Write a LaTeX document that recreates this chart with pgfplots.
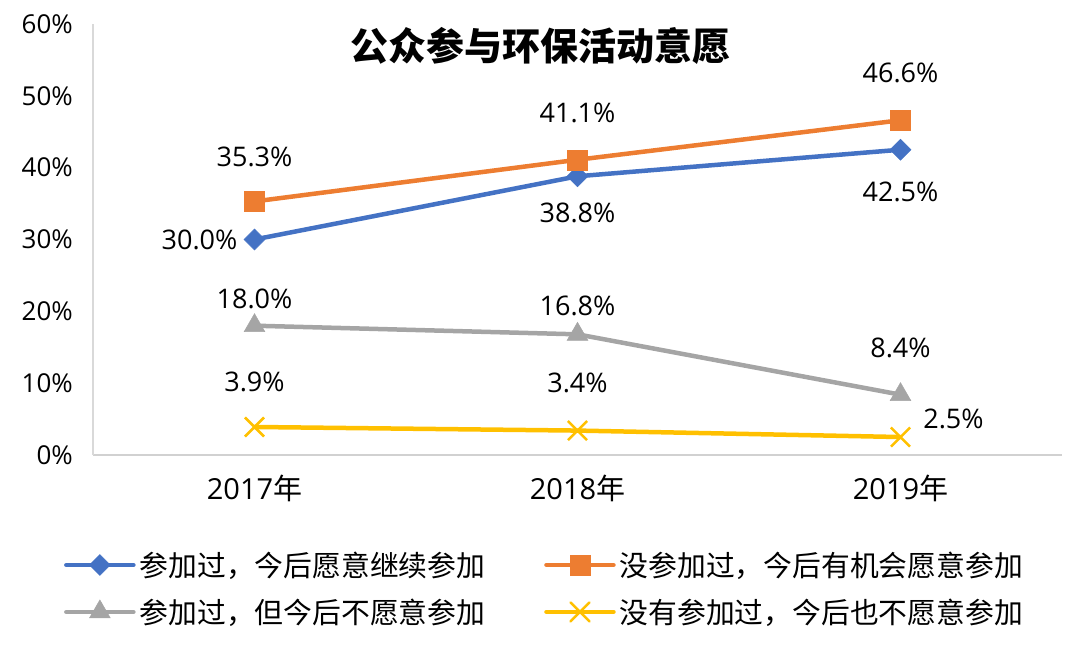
\documentclass[border=0pt]{standalone}
\usepackage{fontspec}
\setmainfont{Open Sans}
\newfontfamily\cjk{Noto Sans CJK SC}
\usepackage{pgfplots}
\usepackage{pgfplotstable}
\pgfplotsset{compat=1.18}
\definecolor{cblue}{HTML}{4472C4}
\definecolor{corange}{HTML}{ED7D31}
\definecolor{cgray}{HTML}{A5A5A5}
\definecolor{cyellow}{HTML}{FFC000}

\pgfplotstableread{
x y dx dy
0 30.0 -55 0
1 38.8 0 -37
2 42.5 0 -42
}\tblA
\pgfplotstableread{
x y dx dy
0 35.3 0 45
1 41.1 0 47
2 46.6 0 47
}\tblB
\pgfplotstableread{
x y dx dy
0 18.0 0 27
1 16.8 0 28
2 8.4 0 47
}\tblC
\pgfplotstableread{
x y dx dy
0 3.9 0 45
1 3.4 0 48
2 2.5 53 18
}\tblD

\begin{document}
\begin{tikzpicture}
\path[use as bounding box] (0bp,0bp) rectangle (1080bp,659bp);
\begin{axis}[
  at={(93bp,204bp)}, anchor=south west, scale only axis,
  width=969bp, height=431bp,
  xmin=-0.5, xmax=2.5, ymin=0, ymax=60,
  xtick={0,1,2},
  xticklabels={2017{\cjk 年},2018{\cjk 年},2019{\cjk 年}},
  ytick={0,10,...,60},
  yticklabel={\pgfmathprintnumber{\tick}\%},
  axis x line=bottom, axis y line=left,
  x axis line style={-, draw=black!18, line width=1.5bp},
  y axis line style={-, draw=black!15, line width=1.5bp},
  major tick length=0pt,
  /pgf/number format/assume math mode=true,
  yticklabel style={font=\fontsize{26bp}{28bp}\selectfont, inner sep=0pt, xshift=-20bp},
  xticklabel style={font=\fontsize{29bp}{31bp}\selectfont, inner sep=0pt, yshift=-20bp},
  title={公众参与环保活动意愿},
  title style={font=\cjk\bfseries\fontsize{38bp}{40bp}\selectfont, at={(axis description cs:0.4613,0.935)}, anchor=center},
  clip=false,
  point meta=y,
  nodes near coords={\pgfmathprintnumber[fixed,fixed zerofill,precision=1]{\pgfplotspointmeta}\%},
  visualization depends on={\thisrow{dx}\as\dx},
  visualization depends on={\thisrow{dy}\as\dy},
  every node near coord/.append style={anchor=center, xshift=\dx bp, yshift=\dy bp, font=\fontsize{27bp}{29bp}\selectfont, text=black},
  legend columns=2,
  legend cell align=left,
  legend style={draw=none, fill=none, at={(axis description cs:-0.030,-0.22)}, anchor=north west, inner sep=0pt,
    font=\cjk\fontsize{28.8bp}{30bp}\selectfont, row sep=17bp, nodes={inner xsep=4bp, inner ysep=2bp},
    /tikz/every even column/.append style={column sep=55bp}},
  legend image code/.code={\draw[mark repeat=2,mark phase=2,#1, line cap=round] plot coordinates {(0bp,0bp) (33.5bp,0bp) (67bp,0bp)};},
]
\addplot[cblue, line width=4.5bp, mark=diamond*, mark size=10.5bp, mark options={solid, xscale=1.33, line width=0.5bp}] table[x=x,y=y] \tblA;
\addlegendentry{参加过，今后愿意继续参加}
\addplot[corange, line width=4.5bp, mark=square*, mark size=10bp, mark options={solid, line width=0.5bp}] table[x=x,y=y] \tblB;
\addlegendentry{没参加过，今后有机会愿意参加}
\addplot[cgray, line width=4.5bp, mark=triangle*, mark size=12bp, mark options={solid, line width=0.5bp}] table[x=x,y=y] \tblC;
\addlegendentry{参加过，但今后不愿意参加}
\addplot[cyellow, line width=4.5bp, mark=x, mark size=13.5bp, mark options={solid, line width=2.5bp}] table[x=x,y=y] \tblD;
\addlegendentry{没有参加过，今后也不愿意参加}
\end{axis}
\end{tikzpicture}
\end{document}
